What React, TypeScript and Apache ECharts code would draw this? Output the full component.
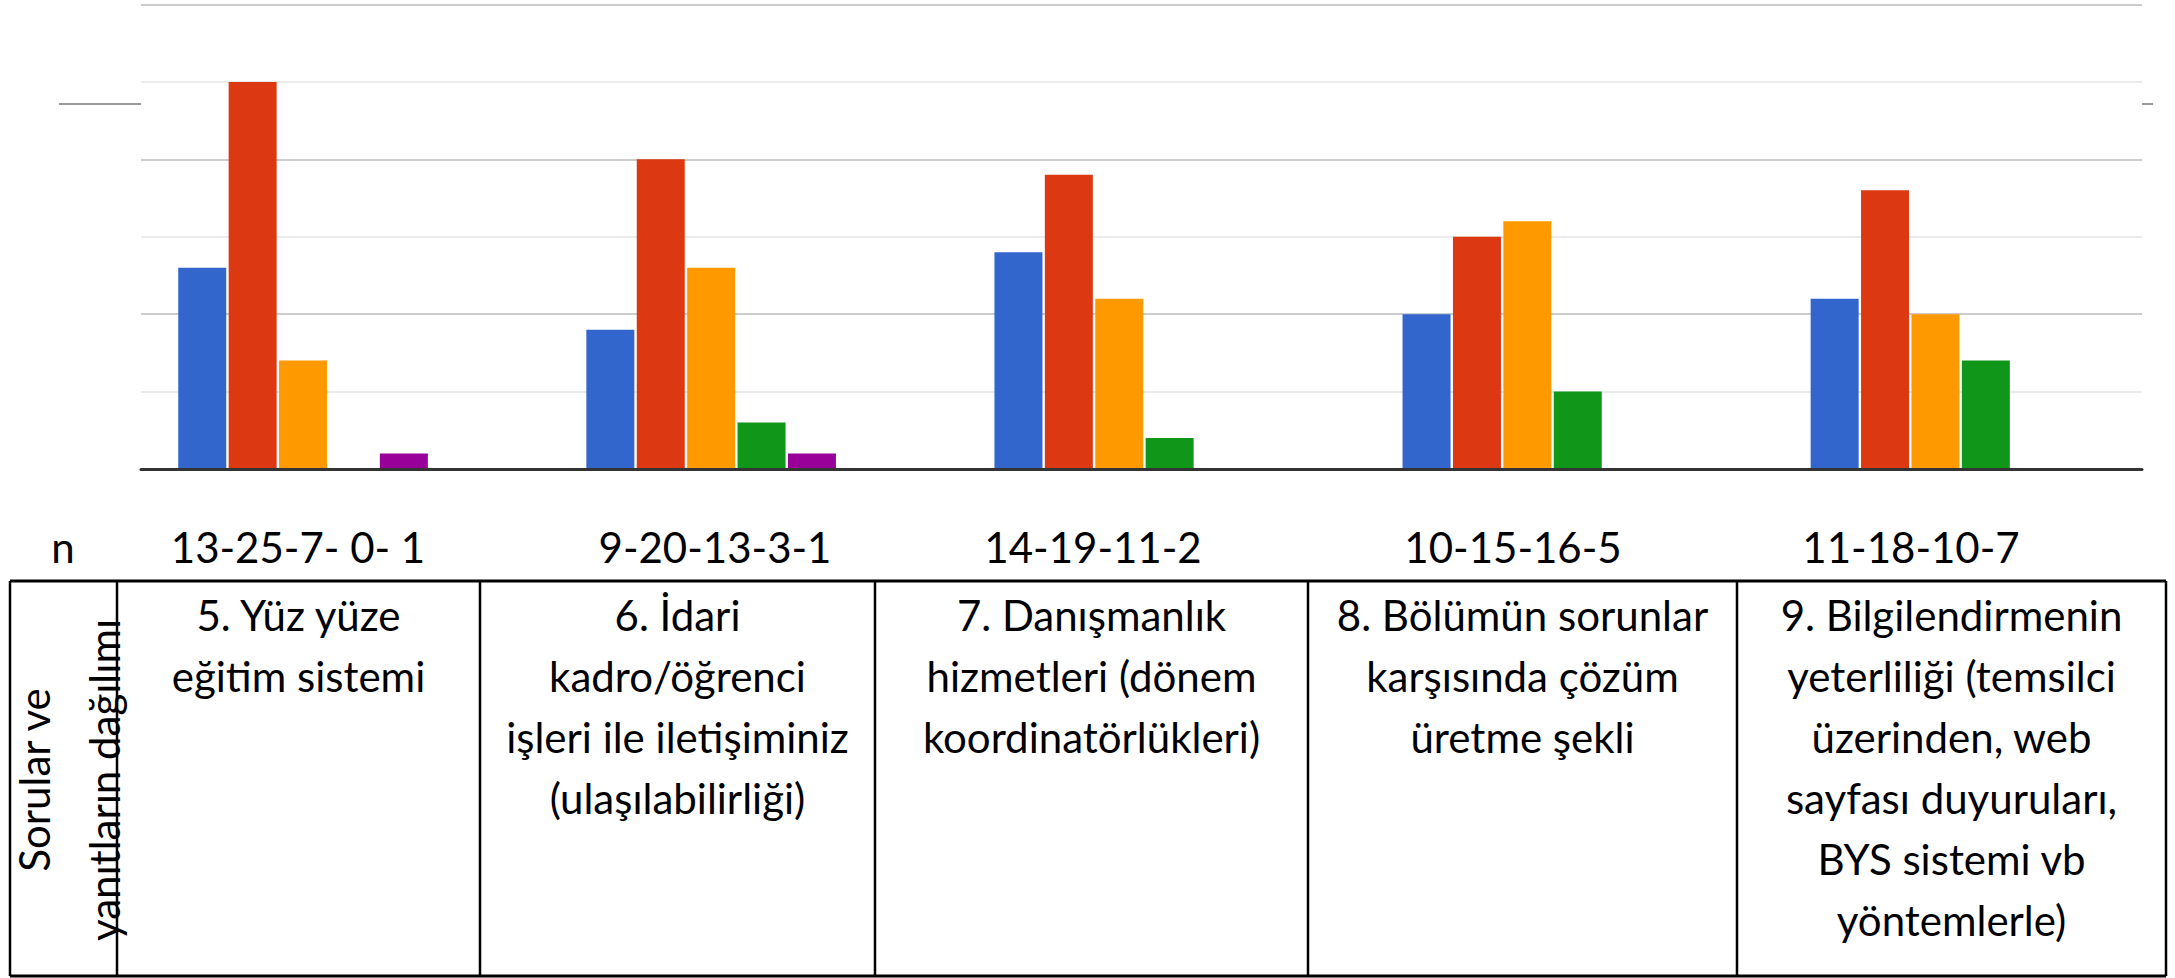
import React, { useEffect, useRef } from "react";
import * as echarts from "echarts";

// ---- data ----
const categories = [
  "5. Yüz yüze\neğitim sistemi",
  "6. İdari\nkadro/öğrenci\nişleri ile iletişiminiz\n(ulaşılabilirliği)",
  "7. Danışmanlık\nhizmetleri (dönem\nkoordinatörlükleri)",
  "8. Bölümün sorunlar\nkarşısında çözüm\nüretme şekli",
  "9. Bilgilendirmenin\nyeterliliği (temsilci\nüzerinden, web\nsayfası duyuruları,\nBYS sistemi vb\nyöntemlerle)",
];
const nLabels = ["13-25-7- 0- 1", "9-20-13-3-1", "14-19-11-2", "10-15-16-5", "11-18-10-7"];
const seriesBlue = [13, 9, 14, 10, 11];
const seriesRed = [25, 20, 19, 15, 18];
const seriesOrange = [7, 13, 11, 16, 10];
const seriesGreen = [0, 3, 2, 5, 7];
const seriesPurple = [1, 1, 0, 0, 0];
const rowHeader = "Sorular ve\nyanıtların dağılımı";
const nHeader = "n";

// ---- layout / style ----
const W = 2175;
const H = 978;
const FONT = "Lato";
const FS = 42;
const colors = ["#3366cc", "#dc3912", "#ff9900", "#109618", "#990099"];
const colLines = [10, 117, 480, 875, 1308, 1737, 2166];
const tableTop = 581;
const tableBottom = 976;
const nLabelX = [298, 715, 1093, 1513, 1911];
const nLabelY = 547;

export default function App() {
  const ref = useRef<HTMLDivElement>(null);

  useEffect(() => {
    if (!ref.current) return;
    const chart = echarts.init(ref.current, null, { renderer: "svg" });
    const allSeries = [seriesBlue, seriesRed, seriesOrange, seriesGreen, seriesPurple];

    const graphics: any[] = [];
    // stubs
    graphics.push({
      type: "line",
      shape: { x1: 59, y1: 104, x2: 141, y2: 104 },
      style: { stroke: "#9a9a9a", lineWidth: 2 },
    });
    graphics.push({
      type: "line",
      shape: { x1: 2142, y1: 104, x2: 2153, y2: 104 },
      style: { stroke: "#9a9a9a", lineWidth: 2 },
    });
    // table lines
    graphics.push({
      type: "line",
      shape: { x1: colLines[0], y1: tableTop, x2: colLines[colLines.length - 1], y2: tableTop },
      style: { stroke: "#000", lineWidth: 3 },
    });
    graphics.push({
      type: "line",
      shape: { x1: colLines[0], y1: tableBottom, x2: colLines[colLines.length - 1], y2: tableBottom },
      style: { stroke: "#000", lineWidth: 3 },
    });
    colLines.forEach((x) => {
      graphics.push({
        type: "line",
        shape: { x1: x, y1: tableTop, x2: x, y2: tableBottom },
        style: { stroke: "#000", lineWidth: 2.5 },
      });
    });
    // n header
    graphics.push({
      type: "text",
      x: 63,
      y: nLabelY,
      style: {
        text: nHeader,
        fontFamily: FONT,
        fontSize: FS,
        fill: "#000",
        align: "center",
        verticalAlign: "middle",
      },
    });
    nLabels.forEach((t, i) => {
      graphics.push({
        type: "text",
        x: nLabelX[i],
        y: nLabelY,
        style: {
          text: t,
          fontFamily: FONT,
          fontSize: FS,
          fill: "#000",
          align: "center",
          verticalAlign: "middle",
        },
      });
    });
    // category cells
    categories.forEach((t, i) => {
      const cx = (colLines[i + 1] + colLines[i + 2]) / 2;
      graphics.push({
        type: "text",
        x: cx,
        y: 584,
        style: {
          text: t,
          fontFamily: FONT,
          fontSize: FS,
          lineHeight: 61,
          fill: "#000",
          align: "center",
          verticalAlign: "top",
        },
      });
    });
    // rotated row header
    graphics.push({
      type: "text",
      x: 69,
      y: 780,
      rotation: Math.PI / 2,
      z: 100,
      style: {
        text: rowHeader,
        fontFamily: FONT,
        fontSize: FS,
        lineHeight: 70,
        fill: "#000",
        align: "center",
        verticalAlign: "middle",
      },
    });

    chart.setOption({
      animation: false,
      backgroundColor: "#ffffff",
      grid: [
        { left: 141, right: W - 2142, top: 4.5, bottom: H - 469 },
        { left: 99, right: W - 2139.5, top: 4.5, bottom: H - 469 },
      ],
      xAxis: [
        {
          gridIndex: 0,
          type: "category",
          data: categories,
          z: 10,
          axisLine: { show: true, lineStyle: { color: "#333333", width: 3 } },
          axisTick: { show: false },
          axisLabel: { show: false },
          splitLine: { show: false },
        },
        {
          gridIndex: 1,
          type: "category",
          data: categories,
          show: false,
        },
      ],
      yAxis: [
        {
          gridIndex: 0,
          type: "value",
          min: 0,
          max: 30,
          interval: 10,
          axisLabel: { show: false },
          axisLine: { show: false },
          axisTick: { show: false },
          splitLine: { show: true, lineStyle: { color: "#cccccc", width: 2 } },
          minorTick: { show: false, splitNumber: 2 },
          minorSplitLine: { show: true, lineStyle: { color: "#ebebeb", width: 2 } },
        },
        {
          gridIndex: 1,
          type: "value",
          min: 0,
          max: 30,
          interval: 10,
          show: false,
          splitLine: { show: false },
        },
      ],
      series: allSeries.map((d, i) => ({
        type: "bar",
        xAxisIndex: 1,
        yAxisIndex: 1,
        data: d,
        barWidth: 48,
        barGap: "5%",
        itemStyle: { color: colors[i] },
        silent: true,
      })),
      graphic: graphics,
    });

    return () => chart.dispose();
  }, []);

  return (
    <div
      ref={ref}
      style={{ position: "absolute", left: 0, top: 0, width: W, height: H, background: "#fff" }}
    />
  );
}
